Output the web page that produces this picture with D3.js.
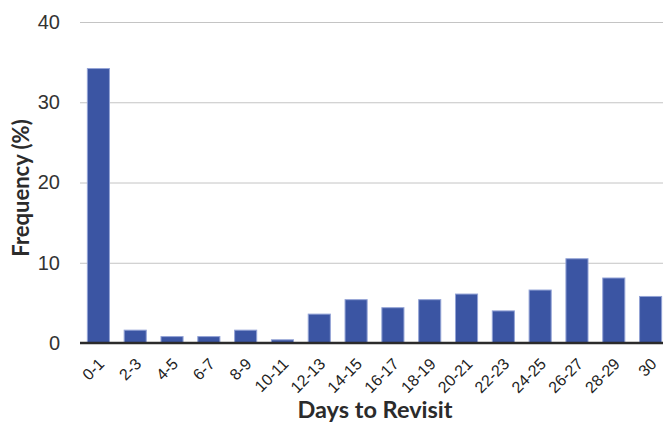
<!DOCTYPE html>
<html>
<head>
<meta charset="utf-8">
<script src="https://cdn.jsdelivr.net/npm/d3@7"></script>
<style>
  html, body { margin: 0; padding: 0; background: #fff; }
  svg { display: block; font-family: Lato, "Open Sans", sans-serif; }
</style>
</head>
<body>
<svg id="chart" width="663" height="424"></svg>
<script>
// Share of revisits by number of days elapsed
const categories = ["0-1","2-3","4-5","6-7","8-9","10-11","12-13","14-15","16-17","18-19","20-21","22-23","24-25","26-27","28-29","30"];
const frequency = [34.2, 1.6, 0.8, 0.8, 1.6, 0.4, 3.6, 5.4, 4.4, 5.4, 6.1, 4.0, 6.6, 10.5, 8.1, 5.8];
const yTicks = [0, 10, 20, 30, 40];

const svg = d3.select("#chart");
const margin = { top: 22, left: 80, bottom: 81 };
const W = 663, H = 424;
const gridW = W - margin.left;          // gridlines run to the right edge
const bandW = 589;                      // bands overflow slightly past the edge
const innerH = H - margin.top - margin.bottom;

const g = svg.append("g").attr("transform", `translate(${margin.left},${margin.top})`);

const x = d3.scaleBand().domain(categories).range([0, bandW]).paddingInner(0.4).paddingOuter(0.2);
const y = d3.scaleLinear().domain([0, 40]).range([innerH, 0]);

// horizontal gridlines + y labels
const yAxis = g.append("g")
  .call(d3.axisLeft(y).tickValues(yTicks).tickSize(-gridW).tickPadding(20).tickFormat(d3.format("d")));
yAxis.select(".domain").remove();
yAxis.selectAll(".tick line").attr("stroke", "#c4c4c4").attr("stroke-width", 1);
yAxis.selectAll(".tick text")
  .attr("fill", "#333").attr("font-size", 20).attr("font-weight", 500);

// bars
g.selectAll("rect.bar")
  .data(categories.map((c, i) => ({ c, v: frequency[i] })))
  .join("rect")
  .attr("class", "bar")
  .attr("x", d => x(d.c))
  .attr("width", x.bandwidth())
  .attr("y", d => y(d.v))
  .attr("height", d => innerH - y(d.v))
  .attr("fill", "#3b55a3")
  .attr("stroke", "#93a3d6")
  .attr("stroke-width", 1);

// baseline
g.append("line")
  .attr("x1", 0).attr("x2", gridW)
  .attr("y1", innerH).attr("y2", innerH)
  .attr("stroke", "#2b2b2b").attr("stroke-width", 2.5);

// x labels, rotated
const xAxis = g.append("g").attr("transform", `translate(0,${innerH})`)
  .call(d3.axisBottom(x).tickSize(0).tickPadding(0));
xAxis.select(".domain").remove();
xAxis.selectAll(".tick text")
  .attr("text-anchor", "end")
  .attr("dy", "0.35em")
  .attr("transform", "translate(3,18) rotate(-45)")
  .attr("fill", "#222")
  .attr("font-size", 16);

// axis titles
svg.append("text")
  .attr("x", 375)
  .attr("y", 418)
  .attr("text-anchor", "middle")
  .attr("font-size", 23.5)
  .attr("font-weight", 700)
  .attr("fill", "#2b2b2b")
  .text("Days to Revisit");

svg.append("text")
  .attr("transform", `translate(29,188) rotate(-90)`)
  .attr("text-anchor", "middle")
  .attr("font-size", 22)
  .attr("font-weight", 700)
  .attr("fill", "#2b2b2b")
  .text("Frequency (%)");
</script>
</body>
</html>
